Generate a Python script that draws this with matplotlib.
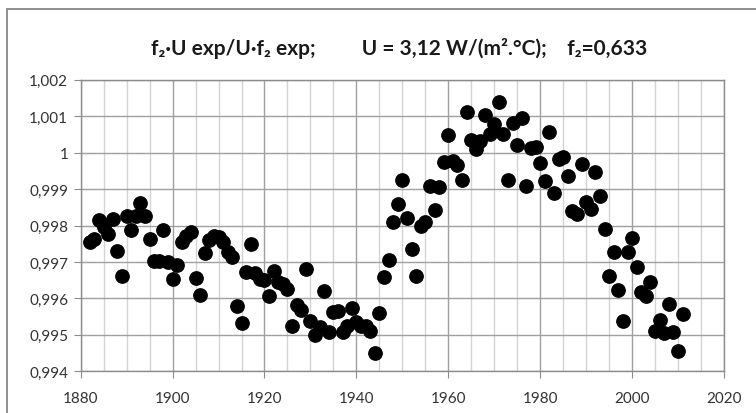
"""Rapport f2*U exp / U*f2 exp en fonction de l'année"""

import numpy as np
import matplotlib
matplotlib.use('Agg')
import matplotlib.pyplot as plt
from matplotlib.patches import Rectangle
from matplotlib.ticker import MultipleLocator, FuncFormatter

plt.rcParams['font.family'] = ['Lato', 'DejaVu Sans']

# Données
annees = np.arange(1882, 2012)
rapport = [
    0.99756, 0.99763, 0.99816, 0.99795, 0.99777, 0.99818, 0.99731, 0.99662,  # 1882-1889
    0.99825, 0.99788, 0.99825, 0.99861, 0.99827, 0.99763, 0.99703, 0.99703,  # 1890-1897
    0.99788, 0.99701, 0.99653, 0.99692, 0.99754, 0.99772, 0.99781, 0.99655,  # 1898-1905
    0.99609, 0.99725, 0.99760, 0.99770, 0.99768, 0.99756, 0.99727, 0.99714,  # 1906-1913
    0.99580, 0.99532, 0.99673, 0.99749, 0.99670, 0.99653, 0.99650, 0.99606,  # 1914-1921
    0.99676, 0.99646, 0.99640, 0.99626, 0.99525, 0.99582, 0.99568, 0.99681,  # 1922-1929
    0.99539, 0.99500, 0.99521, 0.99619, 0.99509, 0.99562, 0.99566, 0.99507,  # 1930-1937
    0.99525, 0.99573, 0.99534, 0.99525, 0.99523, 0.99511, 0.99449, 0.99560,  # 1938-1945
    0.99660, 0.99706, 0.99809, 0.99859, 0.99926, 0.99820, 0.99736, 0.99662,  # 1946-1953
    0.99798, 0.99809, 0.99909, 0.99843, 0.99905, 0.99975, 1.00048, 0.99978,  # 1954-1961
    0.99966, 0.99926, 1.00112, 1.00035, 1.00010, 1.00033, 1.00103, 1.00051,  # 1962-1969
    1.00078, 1.00138, 1.00051, 0.99926, 1.00080, 1.00021, 1.00094, 0.99908,  # 1970-1977
    1.00012, 1.00016, 0.99971, 0.99923, 1.00056, 0.99889, 0.99982, 0.99987,  # 1978-1985
    0.99935, 0.99841, 0.99832, 0.99969, 0.99864, 0.99845, 0.99946, 0.99880,  # 1986-1993
    0.99790, 0.99662, 0.99728, 0.99624, 0.99539, 0.99728, 0.99765, 0.99685,  # 1994-2001
    0.99618, 0.99606, 0.99644, 0.99511, 0.99542, 0.99505, 0.99585, 0.99507,  # 2002-2009
    0.99457, 0.99557,                                                          # 2010-2011
]

titre = 'f\u2082·U exp/U·f\u2082 exp;         U = 3,12 W/(m\u00b2.°C);    f\u2082=0,633'

fig = plt.figure(figsize=(7.56, 4.14), dpi=100)
ax = fig.add_axes([0.1067, 0.1007, 0.8510, 0.7043])

# cadre du graphique (style Excel)
fig.patches.append(Rectangle((7 / 756, -0.05), 1.1, 1 - 10 / 414 + 0.05,
                             transform=fig.transFigure, fill=False,
                             edgecolor='#868686', linewidth=1.3))

ax.plot(annees, rapport, 'o', color='black', markersize=9.6, zorder=3)

ax.set_xlim(1880, 2020)
ax.set_ylim(0.994, 1.002)
ax.xaxis.set_major_locator(MultipleLocator(20))
ax.xaxis.set_minor_locator(MultipleLocator(5))
ax.yaxis.set_major_locator(MultipleLocator(0.001))


def virgule(v, pos):
    s = ('%.3f' % v).rstrip('0').rstrip('.')
    return s.replace('.', ',')


ax.yaxis.set_major_formatter(FuncFormatter(virgule))

ax.grid(which='major', axis='both', color='#a0a0a0', linewidth=1.0, zorder=0)
ax.grid(which='minor', axis='x', color='#d4d4d4', linewidth=1.0, zorder=0)
for s in ax.spines.values():
    s.set_color('#8c8c8c')
    s.set_linewidth(1.0)

ax.tick_params(axis='both', which='major', length=5, color='#8c8c8c',
               labelsize=11, labelcolor='#333333')
ax.tick_params(axis='x', which='minor', length=0)
ax.tick_params(axis='x', pad=9)
ax.tick_params(axis='y', pad=4)

fig.text(0.528, 0.884, titre, ha='center', va='center', fontsize=15,
         fontweight='bold', color='#1a1a1a')

plt.savefig('out.png', dpi=100)
